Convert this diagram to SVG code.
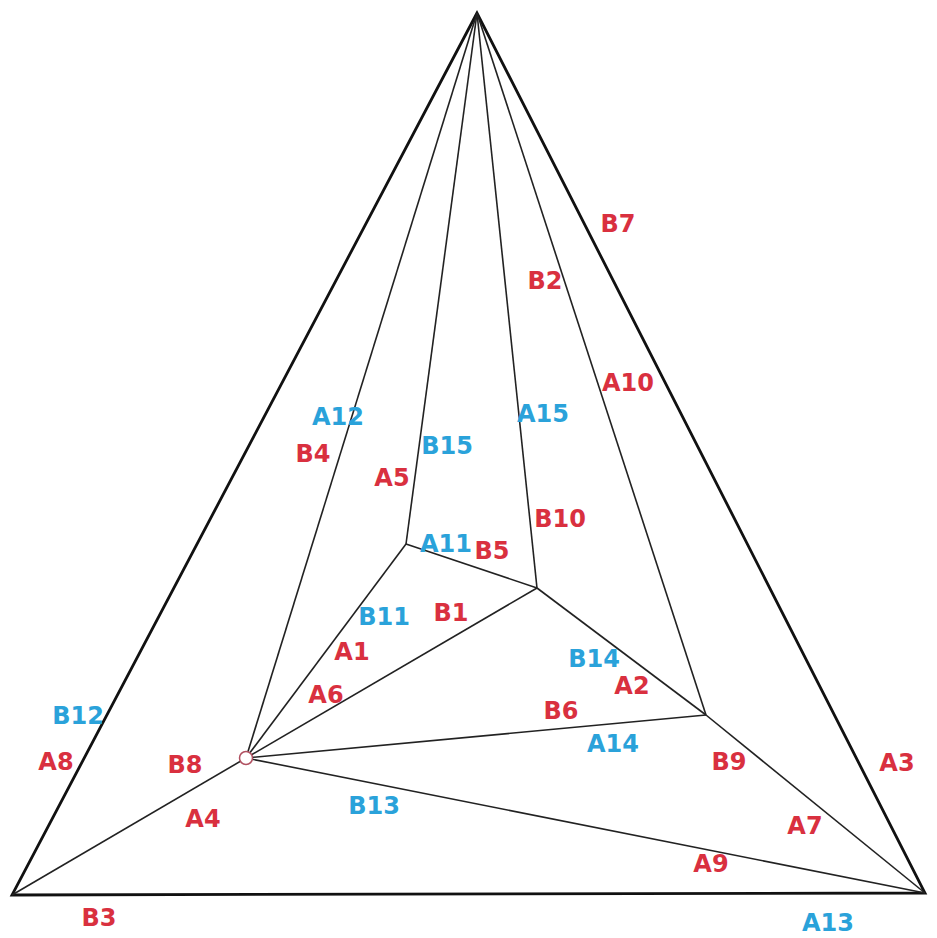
<svg xmlns="http://www.w3.org/2000/svg" width="937" height="938" viewBox="0 0 937 938">
<style>
.outer{fill:none;stroke:#111;stroke-width:2.8;stroke-linejoin:miter}
.ln{fill:none;stroke:#222;stroke-width:1.6}
text{font-family:"DejaVu Sans","Verdana",sans-serif;font-weight:bold;font-size:24px;text-anchor:middle;dominant-baseline:central}
.r{fill:#d9303f}
.b{fill:#2aa2da}
</style>
<rect width="937" height="938" fill="#fff"/>
<g id="connectors">
<polygon class="outer" points="477,13 12,895 925,893"/>
<line class="ln" x1="477" y1="13" x2="246" y2="758"/>
<line class="ln" x1="477" y1="13" x2="406" y2="544"/>
<line class="ln" x1="477" y1="13" x2="537" y2="588"/>
<line class="ln" x1="477" y1="13" x2="706" y2="715"/>
<line class="ln" x1="246" y1="758" x2="406" y2="544"/>
<line class="ln" x1="246" y1="758" x2="537" y2="588"/>
<line class="ln" x1="246" y1="758" x2="706" y2="715"/>
<line class="ln" x1="246" y1="758" x2="925" y2="893"/>
<line class="ln" x1="246" y1="758" x2="12" y2="895"/>
<line class="ln" x1="406" y1="544" x2="537" y2="588"/>
<line class="ln" x1="537" y1="588" x2="706" y2="715"/>
<line class="ln" x1="706" y1="715" x2="925" y2="893"/>
</g>
<g id="node-circle"><circle cx="246" cy="758" r="6.5" fill="#fff" stroke="#b05060" stroke-width="1.5"/></g>
<g id="labels">
<text class="r" x="618" y="224">B7</text>
<text class="r" x="545" y="281">B2</text>
<text class="r" x="628" y="383">A10</text>
<text class="b" x="338" y="417">A12</text>
<text class="r" x="313" y="454">B4</text>
<text class="r" x="392" y="478">A5</text>
<text class="b" x="447" y="446">B15</text>
<text class="b" x="543" y="414">A15</text>
<text class="r" x="560" y="519">B10</text>
<text class="b" x="446" y="544">A11</text>
<text class="r" x="492" y="551">B5</text>
<text class="b" x="384" y="617">B11</text>
<text class="r" x="451" y="613">B1</text>
<text class="r" x="352" y="652">A1</text>
<text class="r" x="326" y="695">A6</text>
<text class="b" x="594" y="659">B14</text>
<text class="r" x="632" y="686">A2</text>
<text class="r" x="561" y="711">B6</text>
<text class="b" x="613" y="744">A14</text>
<text class="b" x="78" y="716">B12</text>
<text class="r" x="56" y="762">A8</text>
<text class="r" x="185" y="765">B8</text>
<text class="r" x="203" y="819">A4</text>
<text class="b" x="374" y="806">B13</text>
<text class="r" x="729" y="762">B9</text>
<text class="r" x="897" y="763">A3</text>
<text class="r" x="805" y="826">A7</text>
<text class="r" x="711" y="864">A9</text>
<text class="r" x="99" y="918">B3</text>
<text class="b" x="828" y="923">A13</text>
</g>
</svg>
